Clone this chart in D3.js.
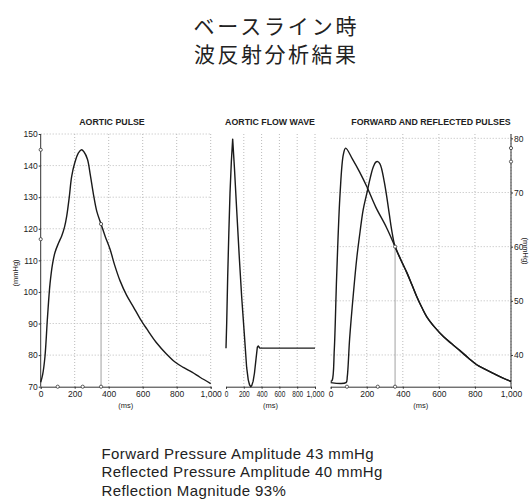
<!DOCTYPE html>
<html>
<head>
<meta charset="utf-8">
<script src="https://cdn.jsdelivr.net/npm/d3@7"></script>
<style>
  body { margin: 0; background: #fff; }
  svg text { font-family: "Liberation Sans", Arial, sans-serif; fill: #222; }
  .grid line { stroke: #bbb; stroke-dasharray: 1,2; }
  .axis path, .axis line { stroke: #333; }
</style>
</head>
<body>
<div id="chart"></div>
<script>
// tick values
const msTicks = [0, 200, 400, 600, 800, 1000];
const pulseTicks = [70, 80, 90, 100, 110, 120, 130, 140, 150];
const waveTicks = [40, 50, 60, 70, 80];

// aortic pulse [ms, mmHg]
const aorticPulse = [[0, 71.4], [12, 74], [25, 79.5], [40, 92], [55, 102.7], [70, 109], [84, 112.5], [105, 115.5],
  [124, 117.8], [140, 120.5], [153, 124], [168, 130], [182, 136.5], [200, 140.8], [222, 144], [240, 145],
  [255, 144.3], [275, 142], [292, 137], [310, 131], [330, 125.5], [355, 121.5], [380, 117.5], [408, 113.5],
  [435, 108.5], [467, 103.5], [505, 99], [545, 95.3], [585, 91.5], [624, 88.3], [680, 84], [741, 80.3],
  [790, 77.8], [839, 76.1], [890, 74.6], [937, 73], [1000, 71]];
const pulseAxisMarks = [145, 116.7];
const pulseTimeMarks = [100, 247, 355];
const pulsePoint = [355, 121.5];

// aortic flow wave [ms, arbitrary units]
const aorticFlow = [[0, 0], [8, 60], [19, 167], [32, 270], [45, 362], [60, 435], [75, 488], [95, 420],
  [120, 323], [150, 210], [176, 120], [205, 35], [232, -45], [250, -74], [265, -86], [277, -90], [290, -87],
  [305, -77], [320, -58], [338, -24], [352, 2], [363, 5], [380, 0], [1000, 0]];

// forward and reflected pulses [ms, mmHg]
const forwardPulse = [[0, 35.1], [8, 35.3], [20, 41], [33, 54.5], [52, 69.8], [70, 77], [83, 78.2], [120, 76.2],
  [160, 73.8], [200, 71.1], [250, 67.3], [310, 63.5], [357, 60], [390, 57.5], [421, 55.3], [450, 53],
  [477, 50.8], [505, 48.8], [532, 47.1], [580, 45], [625, 43.4], [670, 42.1], [717, 40.8], [765, 39.4],
  [810, 38.2], [855, 37.4], [902, 36.6], [950, 35.8], [1000, 35.1]];
const reflectedPulse = [[0, 34.9], [85, 34.9], [92, 36], [105, 43], [126, 51.4], [145, 58], [163, 62.8],
  [180, 66.8], [200, 69.8], [220, 72.8], [237, 74.8], [250, 75.6], [261, 75.7], [273, 75.3], [283, 74.3],
  [297, 72], [311, 69.2], [325, 66], [338, 63.1], [357, 60], [390, 57.5], [421, 55.3], [450, 53],
  [477, 50.8], [505, 48.8], [532, 47.1], [580, 45], [625, 43.4], [670, 42.1], [717, 40.8], [765, 39.4],
  [810, 38.2], [855, 37.4], [902, 36.6], [950, 35.8], [1000, 35.1]];
const waveAxisMarks = [78.2, 75.7];
const waveTimeMarks = [90, 261, 357];
const wavePoint = [357, 60];

const titleLines = ['ベースライン時', '波反射分析結果'];
const summaryLines = ['Forward Pressure Amplitude 43 mmHg', 'Reflected Pressure Amplitude 40 mmHg', 'Reflection Magnitude 93%'];

const W = 531, H = 501, plotTop = 134, plotBottom = 386.7;
const fmt = d3.format(',');

const svg = d3.select('#chart').append('svg')
  .attr('width', W)
  .attr('height', H);

// heading, stretched a bit like the printed one
svg.selectAll('.title')
  .data(titleLines)
  .enter()
  .append('text')
  .attr('class', 'title')
  .attr('x', 275)
  .attr('y', (d, i) => 34 + i * 27.5)
  .attr('text-anchor', 'middle')
  .attr('textLength', (d, i) => i ? 162 : 163)
  .style('font-family', '"Noto Sans CJK JP", sans-serif')
  .style('font-size', '21px')
  .text(d => d);

svg.selectAll('.summary')
  .data(summaryLines)
  .enter()
  .append('text')
  .attr('class', 'summary')
  .attr('x', 101.5)
  .attr('y', (d, i) => 458.5 + i * 18.5)
  .style('font-size', '15px')
  .text(d => d)
  .each(function() {
    // printed text runs ~5% wider than Arial
    const w = this.getComputedTextLength();
    d3.select(this).attr('textLength', w * 1.053);
  });

function panel(opt) {
  const x = d3.scaleLinear().domain([0, 1000]).range(opt.xr);
  const y = d3.scaleLinear().domain(opt.yd).range([plotBottom, plotTop]);
  const g = svg.append('g');

  // grid
  const grid = g.append('g').attr('class', 'grid');
  grid.selectAll('.vx').data(msTicks.slice(1)).enter().append('line')
    .attr('x1', d => x(d)).attr('x2', d => x(d)).attr('y1', plotTop).attr('y2', plotBottom);
  if (opt.yTicks) {
    grid.selectAll('.hy').data(opt.yTicks.filter(d => d > opt.yd[0] + 0.5)).enter().append('line')
      .attr('x1', opt.xr[0]).attr('x2', opt.xr[1]).attr('y1', d => y(d)).attr('y2', d => y(d));
  }

  // x axis
  const xa = g.append('g')
    .attr('class', 'axis')
    .attr('transform', `translate(0,${plotBottom})`)
    .call(d3.axisBottom(x).tickValues(msTicks).tickFormat(fmt).tickSize(2).tickPadding(2));
  xa.selectAll('text').style('font-size', '8.5px');
  if (opt.squeeze) xa.selectAll('text').attr('textLength', d => String(fmt(d)).length * 3.6).attr('lengthAdjust', 'spacingAndGlyphs');
  g.append('text')
    .attr('x', (opt.xr[0] + opt.xr[1]) / 2)
    .attr('y', 408)
    .attr('text-anchor', 'middle')
    .style('font-size', '7.5px')
    .text('(ms)');

  // y axis
  if (opt.yTicks) {
    const right = opt.side === 'right';
    const axis = right ? d3.axisRight(y) : d3.axisLeft(y);
    const ya = g.append('g')
      .attr('class', 'axis')
      .attr('transform', `translate(${right ? opt.xr[1] : opt.xr[0]},0)`)
      .call(axis.tickValues(opt.yTicks).tickSize(2).tickPadding(1));
    ya.select('.domain').attr('d', `M0,${plotTop}V${plotBottom}`);
    ya.selectAll('text').style('font-size', '8.5px');
    g.append('text')
      .attr('transform', right ? 'translate(526,251) rotate(90)' : 'translate(15,273) rotate(-90)')
      .attr('text-anchor', 'middle')
      .attr('dy', '0.35em')
      .style('font-size', '7.5px')
      .text('(mmHg)');
  }

  // title
  g.append('text')
    .attr('x', opt.tx)
    .attr('y', 125)
    .attr('text-anchor', 'middle')
    .style('font-size', '8.8px')
    .style('font-weight', 'bold')
    .text(opt.title);

  // marker line
  if (opt.point) {
    g.append('line')
      .attr('x1', x(opt.point[0])).attr('x2', x(opt.point[0]))
      .attr('y1', plotBottom).attr('y2', y(opt.point[1]))
      .attr('stroke', '#888').attr('stroke-width', 0.8);
  }

  // curves
  opt.series.forEach(s => {
    g.append('path')
      .datum(s.data)
      .attr('fill', 'none')
      .attr('stroke', '#1a1a1a')
      .attr('stroke-width', s.w || 1.4)
      .attr('stroke-linejoin', 'round')
      .attr('d', d3.line().x(d => x(d[0])).y(d => y(d[1])).curve(s.curve || d3.curveCatmullRom.alpha(0.5)));
  });

  // markers
  const marks = [];
  (opt.axisMarks || []).forEach(v => marks.push([opt.side === 'right' ? 1000 : 0, v]));
  (opt.timeMarks || []).forEach(t => marks.push([t, opt.yd[0]]));
  if (opt.point) marks.push(opt.point);
  g.selectAll('.mark').data(marks).enter().append('circle')
    .attr('cx', d => x(d[0]))
    .attr('cy', d => y(d[1]))
    .attr('r', 1.6)
    .attr('fill', '#fff')
    .attr('stroke', '#333')
    .attr('stroke-width', 0.8);
}

panel({
  title: 'AORTIC PULSE', tx: 112, xr: [40.7, 210.7], yd: [70, 150], yTicks: pulseTicks, side: 'left',
  series: [{ data: aorticPulse }],
  axisMarks: pulseAxisMarks, timeMarks: pulseTimeMarks, point: pulsePoint
});

panel({
  title: 'AORTIC FLOW WAVE', tx: 270, xr: [226, 315], yd: [-90, 500], squeeze: true,
  series: [{ data: aorticFlow, curve: d3.curveLinear, w: 1.4 }]
});

panel({
  title: 'FORWARD AND REFLECTED PULSES', tx: 431, xr: [330.7, 511], yd: [34.14, 80.8], yTicks: waveTicks, side: 'right',
  series: [{ data: forwardPulse }, { data: reflectedPulse }],
  axisMarks: waveAxisMarks, timeMarks: waveTimeMarks, point: wavePoint
});
</script>
</body>
</html>
